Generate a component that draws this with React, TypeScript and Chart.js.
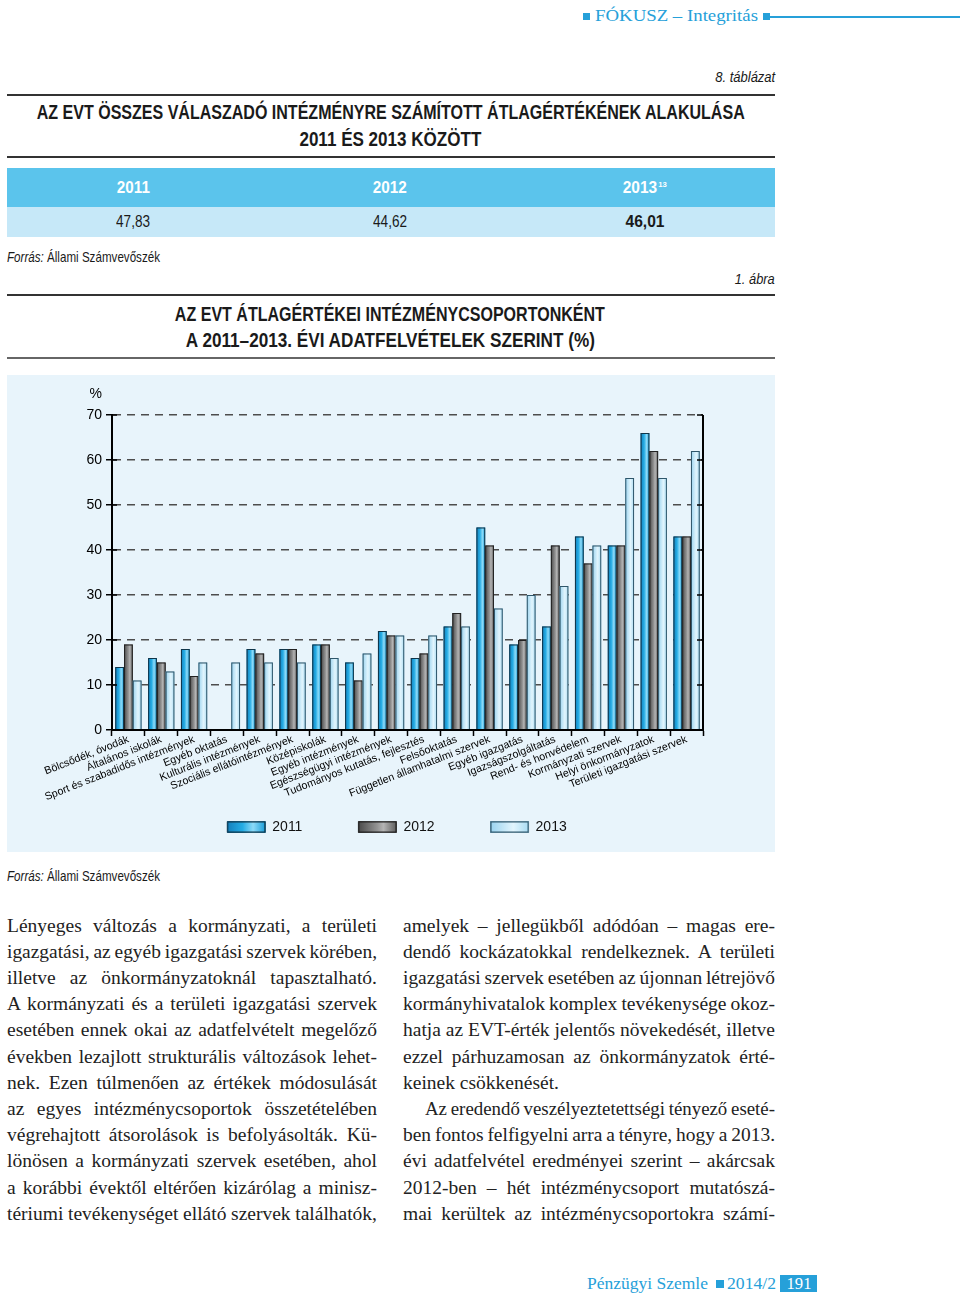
import React, { useEffect, useLayoutEffect, useRef } from 'react';
import { Chart, registerables } from 'chart.js';

Chart.register(...registerables);

// ---------- data ----------
const categories = [
  'Bölcsődék, óvodák',
  'Általános iskolák',
  'Sport és szabadidős intézmények',
  'Egyéb oktatás',
  'Kulturális intézmények',
  'Szociális ellátóintézmények',
  'Középiskolák',
  'Egyéb intézmények',
  'Egészségügyi intézmények',
  'Tudományos kutatás, fejlesztés',
  'Felsőoktatás',
  'Független államhatalmi szervek',
  'Egyéb igazgatás',
  'Igazságszolgáltatás',
  'Rend- és honvédelem',
  'Kormányzati szervek',
  'Helyi önkormányzatok',
  'Területi igazgatási szervek',
];
const seriesLabels = ['2011', '2012', '2013'];
const values2011 = [14, 16, 18, null, 18, 18, 19, 15, 22, 16, 23, 45, 19, 23, 43, 41, 66, 43];
const values2012 = [19, 15, 12, null, 17, 18, 19, 11, 21, 17, 26, 41, 20, 41, 37, 41, 62, 43];
const values2013 = [11, 13, 15, 15, 15, 15, 16, 17, 21, 21, 23, 27, 30, 32, 41, 56, 56, 62];
const yMin = 0;
const yMax = 70;
const yStep = 10;

const tableYears = ['2011', '2012', '2013'];
const tableValues = ['47,83', '44,62', '46,01'];

// ---------- styles ----------
const SANS = "'Liberation Sans', Arial, sans-serif";
const COND = "'Liberation Sans Narrow', 'Liberation Sans', Arial, sans-serif";
const SERIF = "'Liberation Serif', 'DejaVu Serif', serif";
const BLUE = '#26a0d9';

const fills = ['#2aaee6', '#8a8a8a', '#c2e7f8'];
const borderColors = ['#103549', '#222222', '#2f566a'];
const gradStops: [number, string][][] = [
  [[0, '#137fbc'], [0.4, '#25ace4'], [0.68, '#8cdaf8'], [1, '#1a9dd8']],
  [[0, '#4a4a4a'], [0.5, '#949494'], [0.66, '#b4b4b4'], [1, '#5e5e5e']],
  [[0, '#9ad3ef'], [0.6, '#e2f5fd'], [1, '#a9dbf2']],
];

function makeGrad(ctx: CanvasRenderingContext2D, x0: number, x1: number, stops: [number, string][]) {
  const g = ctx.createLinearGradient(x0, 0, x1, 0);
  stops.forEach(([o, c]) => g.addColorStop(o, c));
  return g;
}

const barShade = {
  id: 'barShade',
  afterDatasetsDraw(chart: any) {
    const ctx = chart.ctx as CanvasRenderingContext2D;
    chart.data.datasets.forEach((ds: any, di: number) => {
      const meta = chart.getDatasetMeta(di);
      meta.data.forEach((bar: any, i: number) => {
        if (ds.data[i] == null) return;
        const { x, y, base, width } = bar.getProps(['x', 'y', 'base', 'width'], true);
        const l = x - width / 2;
        const t = Math.min(y, base);
        const h = Math.abs(base - y);
        ctx.save();
        ctx.fillStyle = makeGrad(ctx, l, l + width, gradStops[di]);
        ctx.fillRect(l, t, width, h);
        ctx.strokeStyle = borderColors[di];
        ctx.lineWidth = 1;
        ctx.strokeRect(l + 0.5, t + 0.5, width - 1, h);
        ctx.restore();
      });
    });
  },
  afterDraw(chart: any) {
    const lg = chart.legend;
    if (!lg || !lg.legendHitBoxes) return;
    const ctx = chart.ctx as CanvasRenderingContext2D;
    const lo = lg.options.labels;
    const fontSize = lo.font.size;
    lg.legendHitBoxes.forEach((hb: any, i: number) => {
      const top = hb.top + Math.max((fontSize - lo.boxHeight) / 2, 0);
      ctx.save();
      ctx.fillStyle = makeGrad(ctx, hb.left, hb.left + lo.boxWidth, gradStops[i]);
      ctx.fillRect(hb.left, top, lo.boxWidth, lo.boxHeight);
      ctx.strokeStyle = borderColors[i];
      ctx.lineWidth = 1;
      ctx.strokeRect(hb.left + 0.5, top + 0.5, lo.boxWidth - 1, lo.boxHeight - 1);
      ctx.restore();
    });
  },
};

const axisExtras = {
  id: 'axisExtras',
  afterDraw(chart: any) {
    const { ctx, chartArea } = chart;
    const y = chart.scales.y;
    ctx.save();
    ctx.strokeStyle = '#000';
    ctx.lineWidth = 2;
    ctx.beginPath();
    ctx.moveTo(chartArea.right, chartArea.top);
    ctx.lineTo(chartArea.right, chartArea.bottom);
    ctx.stroke();
    ctx.lineWidth = 1.5;
    ctx.beginPath();
    y.ticks.forEach((t: any) => {
      const py = y.getPixelForValue(t.value);
      ctx.moveTo(chartArea.right - 6, py);
      ctx.lineTo(chartArea.right, py);
      ctx.moveTo(chartArea.left, py);
      ctx.lineTo(chartArea.left + 5, py);
    });
    ctx.stroke();
    ctx.fillStyle = '#000';
    ctx.font = `14px ${SANS}`;
    ctx.textAlign = 'right';
    ctx.textBaseline = 'middle';
    ctx.fillText('%', y.right - 10, chartArea.top - 21);
    ctx.restore();
  },
};

const legendShift = {
  id: 'legendShift',
  afterLayout(chart: any) {
    const lg = chart.legend;
    if (lg) {
      lg.left += 63;
      lg.right += 63;
    }
  },
};

function BarChart() {
  const ref = useRef<HTMLCanvasElement>(null);
  useEffect(() => {
    if (!ref.current) return;
    Chart.defaults.font.family = SANS;
    const baseGen = (Chart.defaults as any).plugins.legend.labels.generateLabels;
    const chart = new Chart(ref.current, {
      type: 'bar',
      data: {
        labels: categories,
        datasets: [
          { label: seriesLabels[0], data: values2011, backgroundColor: fills[0], borderColor: borderColors[0], borderWidth: 1 },
          { label: seriesLabels[1], data: values2012, backgroundColor: fills[1], borderColor: borderColors[1], borderWidth: 1 },
          { label: seriesLabels[2], data: values2013, backgroundColor: fills[2], borderColor: borderColors[2], borderWidth: 1 },
        ],
      },
      options: {
        responsive: false,
        animation: false,
        devicePixelRatio: 1,
        layout: { padding: { top: 40, right: 72, bottom: 8, left: 0 } },
        datasets: { bar: { categoryPercentage: 0.8, barPercentage: 1 } },
        plugins: {
          legend: {
            position: 'bottom',
            maxHeight: 42,
            labels: {
              boxWidth: 38,
              boxHeight: 11,
              padding: 14,
              color: '#111',
              font: { size: 14 },
              generateLabels: (c: any) =>
                baseGen(c).map((l: any) => ({ ...l, text: l.text + '\u2003\u2003\u2003' })),
            },
          },
          tooltip: { enabled: false },
          title: { display: false },
        },
        scales: {
          x: {
            afterFit: (s: any) => { s.height = 76; },
            ticks: { autoSkip: false, minRotation: 21.5, maxRotation: 21.5, color: '#000', font: { size: 10.7 }, padding: -3 },
            grid: { display: true, drawOnChartArea: false, drawTicks: true, tickLength: 6, tickColor: '#000', tickWidth: 1.5, offset: true },
            border: { display: true, color: '#000', width: 2, z: 1 },
          },
          y: {
            min: yMin,
            max: yMax,
            afterFit: (s: any) => { s.width = 105; },
            ticks: { stepSize: yStep, color: '#000', font: { size: 14 }, padding: 4 },
            grid: { color: '#4d4d4d', lineWidth: 1.5, tickLength: 6, tickColor: '#000', tickWidth: 1.5 },
            border: { display: true, color: '#000', width: 2, dash: [8, 6] },
          },
        },
      } as any,
      plugins: [barShade, axisExtras, legendShift],
    });
    return () => chart.destroy();
  }, []);
  return <canvas ref={ref} width={768} height={477} style={{ position: 'absolute', left: 7, top: 375, width: 768, height: 477 }} />;
}

type TP = {
  x: number; y: number; w?: number; align?: 'left' | 'center' | 'right'; size: number;
  bold?: boolean; italic?: boolean; color?: string; family?: string; children: any;
};
function T({ x, y, w, align = 'left', size, bold, italic, color = '#1a1a1a', family = COND, children }: TP) {
  const style: any = {
    position: 'absolute', top: y - size * 0.6, lineHeight: `${size * 1.2}px`, fontSize: size,
    fontWeight: bold ? 700 : 400, fontStyle: italic ? 'italic' : 'normal', color, fontFamily: family, whiteSpace: 'nowrap',
  };
  if (align === 'left') style.left = x;
  else if (align === 'right') style.right = 960 - x;
  else { style.left = x - 500; style.width = 1000; style.textAlign = 'center'; }
  const origin = align === 'left' ? 'left center' : align === 'right' ? 'right center' : 'center center';
  return (
    <div style={style}>
      <span data-fit={w ?? ''} style={{ display: 'inline-block', transformOrigin: origin }}>{children}</span>
    </div>
  );
}

function Line({ x, y, w, text, just = true }: { x: number; y: number; w: number; text: string; just?: boolean }) {
  return (
    <div style={{ position: 'absolute', left: x, top: y - 14.5, fontFamily: SERIF, fontSize: 19.5, lineHeight: '23px', color: '#222', whiteSpace: 'nowrap' }}>
      <span data-just={just ? w : ''} style={{ display: 'inline-block', transformOrigin: 'left center' }}>{text}</span>
    </div>
  );
}

const leftLines = [
  'Lényeges változás a kormányzati, a területi',
  'igazgatási, az egyéb igazgatási szervek körében,',
  'illetve az önkormányzatoknál tapasztalható.',
  'A kormányzati és a területi igazgatási szervek',
  'esetében ennek okai az adatfelvételt megelőző',
  'években lezajlott strukturális változások lehet-',
  'nek. Ezen túlmenően az értékek módosulását',
  'az egyes intézménycsoportok összetételében',
  'végrehajtott átsorolások is befolyásolták. Kü-',
  'lönösen a kormányzati szervek esetében, ahol',
  'a korábbi évektől eltérően kizárólag a minisz-',
  'tériumi tevékenységet ellátó szervek találhatók,',
];
const rightLines = [
  'amelyek – jellegükből adódóan – magas ere-',
  'dendő kockázatokkal rendelkeznek. A területi',
  'igazgatási szervek esetében az újonnan létrejövő',
  'kormányhivatalok komplex tevékenysége okoz-',
  'hatja az EVT-érték jelentős növekedését, illetve',
  'ezzel párhuzamosan az önkormányzatok érté-',
  'keinek csökkenését.',
  'Az eredendő veszélyeztetettségi tényező eseté-',
  'ben fontos felfigyelni arra a tényre, hogy a 2013.',
  'évi adatfelvétel eredményei szerint – akárcsak',
  '2012-ben – hét intézménycsoport mutatószá-',
  'mai kerültek az intézménycsoportokra számí-',
];

function applyFit() {
  document.querySelectorAll<HTMLElement>('[data-fit]').forEach((el) => {
    const w = parseFloat(el.dataset.fit || '');
    if (!w) return;
    el.style.transform = 'none';
    const nat = el.getBoundingClientRect().width;
    if (nat > 0) el.style.transform = `scaleX(${w / nat})`;
  });
  document.querySelectorAll<HTMLElement>('[data-just]').forEach((el) => {
    const w = parseFloat(el.dataset.just || '');
    if (!w) return;
    el.style.wordSpacing = '0px';
    el.style.transform = 'none';
    const nat = el.getBoundingClientRect().width;
    const spaces = (el.textContent || '').split(' ').length - 1;
    if (spaces <= 0) return;
    let ws = (w - nat) / spaces;
    const minWs = -1;
    if (ws < minWs) {
      ws = minWs;
      el.style.wordSpacing = `${ws}px`;
      const nat2 = el.getBoundingClientRect().width;
      el.style.transform = `scaleX(${w / nat2})`;
    } else {
      el.style.wordSpacing = `${ws}px`;
    }
  });
}

const rule = (top: number, color = '#333') => (
  <div style={{ position: 'absolute', left: 7, top, width: 768, height: 2, background: color }} />
);

export default function App() {
  useLayoutEffect(() => {
    applyFit();
    if ((document as any).fonts && (document as any).fonts.ready) {
      (document as any).fonts.ready.then(applyFit);
    }
  }, []);
  const lineY = (i: number) => 928 + 26.2 * i;
  const tableX = [133, 390, 645];
  return (
    <div style={{ position: 'absolute', left: 0, top: 0, width: 960, height: 1301, background: '#fff', overflow: 'hidden', fontFamily: SANS }}>
      {/* header */}
      <div style={{ position: 'absolute', left: 583, top: 13, width: 7, height: 7, background: BLUE }} />
      <T x={595} y={16} w={163} size={17} family={SERIF} color={BLUE}>FÓKUSZ – Integritás</T>
      <div style={{ position: 'absolute', left: 763, top: 13, width: 7, height: 7, background: BLUE }} />
      <div style={{ position: 'absolute', left: 770, top: 16, width: 190, height: 1.5, background: BLUE }} />

      <T x={775} y={77} w={60} size={15} italic align="right">8. táblázat</T>
      {rule(94)}
      <T x={391} y={112} w={708} size={20.5} bold align="center">AZ EVT ÖSSZES VÁLASZADÓ INTÉZMÉNYRE SZÁMÍTOTT ÁTLAGÉRTÉKÉNEK ALAKULÁSA</T>
      <T x={390} y={139} w={182} size={20.5} bold align="center">2011 ÉS 2013 KÖZÖTT</T>
      {rule(156)}

      {/* table */}
      <div style={{ position: 'absolute', left: 7, top: 168, width: 768, height: 39, background: '#5bc4ec' }} />
      <div style={{ position: 'absolute', left: 7, top: 207, width: 768, height: 30, background: '#c6e8f8' }} />
      <T x={tableX[0]} y={188} w={33} size={16} bold color="#fff" align="center">{tableYears[0]}</T>
      <T x={tableX[1]} y={188} w={34} size={16} bold color="#fff" align="center">{tableYears[1]}</T>
      <T x={tableX[2]} y={188} w={44} size={16} bold color="#fff" align="center">
        {tableYears[2]}
        <span style={{ fontSize: 8, position: 'relative', top: -6, lineHeight: 0, marginLeft: 1 }}>13</span>
      </T>
      <T x={tableX[0]} y={222} w={34} size={16} align="center">{tableValues[0]}</T>
      <T x={tableX[1]} y={222} w={34} size={16} align="center">{tableValues[1]}</T>
      <T x={tableX[2]} y={222} w={39} size={16} bold align="center">{tableValues[2]}</T>

      <T x={7} y={258} w={153} size={14.5}><i>Forrás:</i> Állami Számvevőszék</T>
      <T x={775} y={279} w={40} size={15} italic align="right">1. ábra</T>
      {rule(294)}
      <T x={390} y={314} w={430} size={20.5} bold align="center">AZ EVT ÁTLAGÉRTÉKEI INTÉZMÉNYCSOPORTONKÉNT</T>
      <T x={390} y={340} w={409} size={20.5} bold align="center">A 2011–2013. ÉVI ADATFELVÉTELEK SZERINT (%)</T>
      {rule(357, '#666')}

      {/* chart panel */}
      <div style={{ position: 'absolute', left: 7, top: 375, width: 768, height: 477, background: '#e8f4fb' }} />
      <BarChart />

      <T x={7} y={877} w={153} size={14.5}><i>Forrás:</i> Állami Számvevőszék</T>

      {/* body text */}
      {leftLines.map((t, i) => (
        <Line key={'l' + i} x={7} y={lineY(i)} w={370} text={t} />
      ))}
      {rightLines.map((t, i) => (
        <Line key={'r' + i} x={i === 7 ? 425 : 403} y={lineY(i)} w={i === 7 ? 350 : 372} text={t} just={i !== 6} />
      ))}

      {/* footer */}
      <T x={587} y={1284} w={121} size={17} family={SERIF} color={BLUE}>Pénzügyi Szemle</T>
      <div style={{ position: 'absolute', left: 716, top: 1280, width: 8, height: 8, background: BLUE }} />
      <T x={727} y={1284} w={49} size={17} family={SERIF} color={BLUE}>2014/2</T>
      <div style={{ position: 'absolute', left: 780, top: 1275, width: 37, height: 17, background: BLUE }} />
      <T x={798.5} y={1284} w={25} size={16} family={SERIF} color="#fff" align="center">191</T>
    </div>
  );
}
